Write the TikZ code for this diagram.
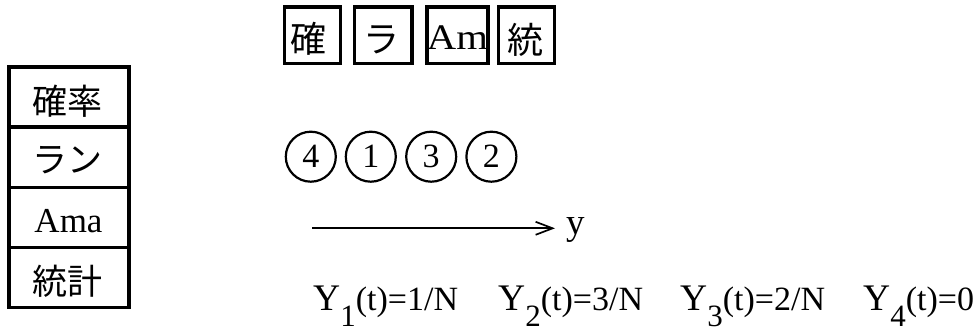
\documentclass[tikz,border=0pt]{standalone}
\usepackage{fontspec}
\setmainfont{Liberation Serif}
\newfontfamily\jp{Noto Sans CJK JP}
\usetikzlibrary{arrows.meta}
\newcommand\yitem[2]{{\fontsize{37.5}{40}\selectfont Y}\raisebox{-16pt}{\fontsize{31}{36}\selectfont #1}{\fontsize{34}{36}\selectfont(t)=#2}}
\begin{document}
\begin{tikzpicture}[x=1pt,y=-1pt,
  stackbox/.style={draw, line width=3.2pt, minimum width=120pt, minimum height=60.1pt, inner sep=0pt},
  topbox/.style={draw, line width=3.2pt, minimum height=56.7pt, inner sep=0pt},
  numcirc/.style={draw, circle, line width=2.2pt, minimum size=50pt, inner sep=0pt, font=\fontsize{34}{40}\selectfont},
  jpt/.style={inner sep=0pt, font=\jp\fontsize{35}{40}\selectfont},
  jpb/.style={inner sep=0pt, font=\jp\fontsize{36}{40}\selectfont},
  txt/.style={inner sep=0pt, anchor=base west}
]
\path[use as bounding box] (0,0) rectangle (975,331);
% left stack
\node[stackbox] (s1) at (69,97.05) {};
\node[stackbox] (s2) at (69,157.15) {};
\node[stackbox] (s3) at (69,217.25) {};
\node[stackbox] (s4) at (69,277.35) {};
\node[jpt] (s1t) at (67.5,101.7) {確率};
\node[jpt] (s2t) at (67.5,160) {ラン};
\node[inner sep=0pt, anchor=base, font=\fontsize{35}{40}\selectfont] (s3t) at (68.5,233) {Ama};
\node[jpt] (s4t) at (67.5,280.8) {統計};
% top boxes
\node[topbox, minimum width=55.6pt] (t1) at (312.5,35.3) {};
\node[topbox, minimum width=57.3pt] (t2) at (383.3,35.3) {};
\node[topbox, minimum width=61pt] (t3) at (457.5,35.3) {};
\node[topbox, minimum width=56pt] (t4) at (526.7,35.3) {};
\node[jpb] (t1t) at (308.5,39) {確};
\node[jpb] (t2t) at (381,40) {ラ};
\node[inner sep=0pt, anchor=base, font=\fontsize{36}{40}\selectfont] (t3t) at (457.5,50) {\scalebox{1.13}[1]{Am}};
\node[jpb] (t4t) at (525.5,40) {統};
% circles
\node[numcirc] (c4) at (310.8,156.7) {4};
\node[numcirc] (c1) at (370.8,156.7) {1};
\node[numcirc] (c3) at (431.2,156.7) {3};
\node[numcirc] (c2) at (491.4,156.7) {2};
% axis
\coordinate (a0) at (312,228.3);
\coordinate (a1) at (555,228.3);
\draw[line width=1.7pt, -{Straight Barb[length=17pt,width=13pt,line width=1.7pt]}] (a0) -- (a1);
\node[txt, font=\fontsize{37}{40}\selectfont] (ylab) at (566,235) {y};
% values
\node[txt] (y1) at (313,310) {\yitem{1}{1/N}};
\node[txt] (y2) at (498,310) {\yitem{2}{3/N}};
\node[txt] (y3) at (680,310) {\yitem{3}{2/N}};
\node[txt] (y4) at (863,310) {\yitem{4}{0}};
\end{tikzpicture}
\end{document}
